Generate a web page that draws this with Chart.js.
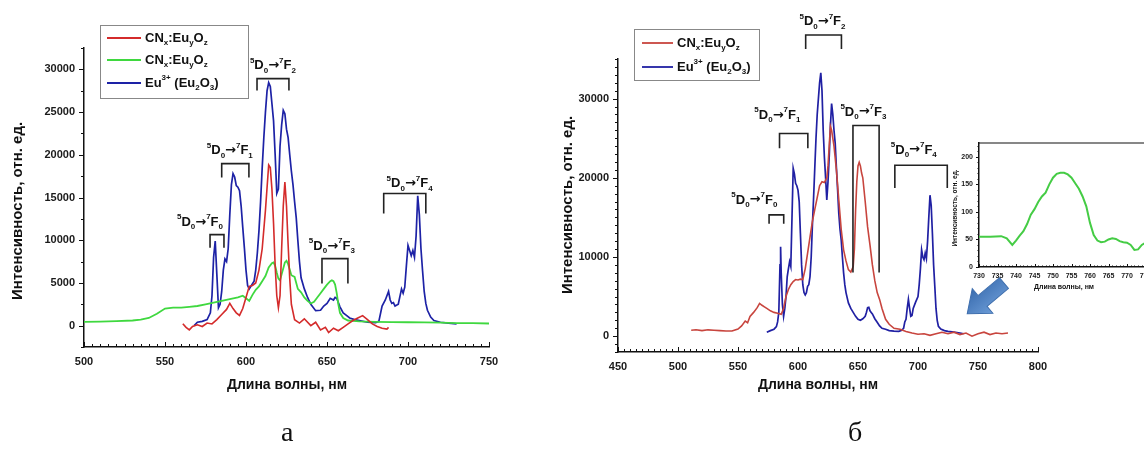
<!DOCTYPE html>
<html><head><meta charset="utf-8">
<script src="https://cdn.jsdelivr.net/npm/chart.js@4"></script>
<style>
html,body{margin:0;padding:0;background:#fff;width:1144px;height:457px;overflow:hidden;position:relative}
canvas{position:absolute}
#cA{left:0;top:0}
#cB{left:540px;top:0}
#cI{left:930px;top:120px}
.lbl{position:absolute;font-family:'Liberation Serif','Times New Roman',serif;font-size:28px;color:#111;line-height:1}
#arrow{position:absolute;left:0;top:0}
</style></head><body>
<canvas id="cA" width="540" height="420"></canvas>
<canvas id="cB" width="520" height="420"></canvas>
<svg id="arrow" width="1144" height="457">
  <defs><linearGradient id="ag" x1="0" y1="0" x2="0" y2="1"><stop offset="0" stop-color="#6b9bd6"/><stop offset="1" stop-color="#3a6db0"/></linearGradient></defs>
  <g transform="translate(1004,283) rotate(140)">
    <polygon points="0,-7 28,-7 28,-16 48,0 28,16 28,7 0,7" fill="url(#ag)" stroke="#3f6fae" stroke-width="1"/>
  </g>
</svg>
<canvas id="cI" width="260" height="185"></canvas>
<div class="lbl" style="left:281px;top:418px">а</div>
<div class="lbl" style="left:848px;top:418px">б</div>
<script>
// ---------------- data (wavelength nm, intensity) ----------------
const redA = [[561,230],[563,-200],[565,-500],[567,-100],[570,100],[573,-100],[576,300],[579,200],[582,700],[585,1300],[588,1900],[590,2600],[592,2000],[594,1500],[596,1200],[598,2000],[600,3300],[602,4600],[604,4700],[606,5000],[608,6500],[610,9000],[612,13500],[614,18800],[615,18500],[616,16000],[617,12000],[618,7000],[619,3500],[620,2100],[621,3500],[622,9000],[623,14000],[624,16800],[625,14000],[626,9500],[627,5500],[628,2500],[630,700],[633,300],[636,800],[640,0],[643,400],[646,-500],[649,-200],[651,-800],[654,-300],[657,-600],[660,-200],[663,200],[666,600],[669,900],[672,1170],[675,700],[678,200],[681,-100],[684,-300],[687,-400],[688,-200]];
const greenA = [[500,450],[510,480],[520,520],[530,600],[535,700],[540,900],[545,1400],[550,2000],[555,2100],[560,2100],[565,2200],[570,2300],[575,2500],[580,2700],[585,2900],[590,3100],[595,3300],[598,3500],[600,3200],[602,2900],[604,3600],[606,4200],[608,4600],[610,5200],[612,5800],[614,6800],[616,7300],[617,7400],[618,7000],[619,6200],[620,5500],[621,5300],[622,6000],[624,7400],[625,7600],[626,7200],[628,5900],[630,5700],[632,4300],[634,3900],[636,3300],[638,2900],[640,2600],[642,2800],[644,3300],[646,3800],[648,4300],[650,4800],[652,5200],[653,5300],[654,5200],[655,4800],[656,3800],[657,2500],[658,1500],[660,900],[663,600],[666,550],[670,500],[680,450],[690,420],[700,400],[710,380],[720,350],[730,300],[740,300],[750,250]];
const blueA = [[568,0],[570,400],[573,500],[576,700],[578,1500],[579,3500],[580,8000],[581,9900],[582,6000],[583,2100],[584,2500],[585,4000],[586,6500],[587,7800],[588,7500],[589,9000],[590,13000],[591,16500],[592,17800],[593,17400],[594,16400],[595,16200],[596,15800],[597,14000],[598,11500],[599,9100],[600,6500],[601,4700],[602,4300],[603,4600],[604,4900],[605,5200],[606,6500],[607,8500],[608,11100],[609,14500],[610,18500],[611,22000],[612,25000],[613,27500],[614,28450],[615,28000],[616,26000],[617,24000],[618,20000],[619,15500],[620,16000],[621,21000],[622,23500],[623,25200],[624,24800],[625,23000],[626,22000],[627,20000],[628,18100],[629,16500],[630,14500],[631,12650],[632,10000],[633,7500],[634,5600],[636,4300],[638,3300],[640,2500],[643,1750],[646,1800],[648,2300],[650,2600],[652,3200],[654,3000],[655,3300],[656,3200],[658,2200],[660,1500],[662,1200],[664,900],[667,700],[670,580],[675,400],[680,350],[682,500],[684,2300],[686,3000],[688,4000],[689,3000],[690,2600],[691,2700],[692,2300],[694,2500],[696,4300],[697,3800],[698,4500],[699,7000],[700,9400],[701,8800],[702,8200],[703,8800],[704,8000],[705,10500],[706,15200],[707,13000],[708,9000],[709,6400],[710,4000],[711,2600],[712,1800],[714,1000],[716,600],[720,400],[725,300],[730,200]];
const redB = [[511,750],[515,800],[520,700],[525,800],[530,750],[535,700],[540,650],[545,650],[550,900],[553,1300],[556,1900],[558,1700],[560,2500],[563,3000],[566,3600],[568,4140],[570,3900],[572,3700],[574,3500],[577,3200],[580,3000],[583,2900],[586,2760],[588,3500],[590,5000],[592,5900],[594,6500],[596,6900],[598,7150],[600,7100],[602,7200],[604,7150],[606,8500],[608,10500],[610,12500],[612,14500],[614,16000],[616,17500],[618,19000],[620,19500],[622,19400],[624,20000],[625,21500],[626,24000],[627,26500],[628,26000],[629,25000],[630,24000],[632,21000],[634,17200],[636,13500],[638,10900],[640,9500],[642,8400],[644,8100],[646,8800],[647,11000],[648,15900],[649,19500],[650,21500],[651,21960],[652,21500],[653,20600],[654,20000],[656,17000],[658,13800],[660,11500],[662,9000],[664,7000],[666,5500],[668,4640],[670,3500],[673,2130],[676,1500],[680,1000],[685,880],[690,600],[695,400],[700,250],[705,300],[710,100],[715,300],[720,500],[725,300],[730,500],[735,200],[740,400],[745,0],[750,300],[755,500],[760,200],[765,400],[770,300],[775,400]];
const blueB = [[574,500],[577,700],[580,880],[582,1200],[583,1800],[584,3000],[585,9000],[585.5,11300],[586,8000],[587,4000],[588,2500],[589,3500],[590,5000],[591,7500],[592,8500],[593,9400],[594,8800],[595,15000],[596,21200],[597,20500],[598,19300],[599,19000],[600,18450],[601,17000],[602,13000],[603,9000],[604,6500],[605,5500],[606,5200],[607,5500],[608,6300],[609,6500],[610,7500],[611,10000],[612,14000],[613,17500],[614,21300],[615,25000],[616,28000],[617,30000],[618,32000],[619,33260],[620,31000],[621,26000],[622,22600],[623,20000],[624,17200],[625,19500],[626,22600],[627,26500],[628,29370],[629,28000],[630,26000],[631,24350],[632,21300],[633,18500],[634,15500],[635,13500],[636,12170],[637,10000],[638,8000],[639,6500],[640,5500],[642,4200],[644,3500],[646,3000],[648,2500],[650,2130],[652,2000],[654,2200],[656,2500],[657,3000],[658,3600],[659,3640],[660,3200],[661,3000],[662,2800],[664,2200],[666,1750],[668,1300],[670,1000],[673,880],[676,700],[680,630],[684,600],[686,700],[688,1000],[689,1800],[690,2130],[691,3500],[692,4640],[693,3500],[694,2500],[695,2600],[696,3500],[698,4300],[700,5000],[701,6500],[702,8500],[703,10900],[704,10000],[705,9660],[706,10500],[707,9800],[708,12000],[709,15000],[710,17800],[711,16500],[712,13000],[713,9000],[714,6300],[715,3500],[716,2000],[717,1250],[719,900],[722,700],[725,600],[730,500],[735,400],[738,300]];
const greenI = [[730,55],[733,55],[736,56],[737.5,52],[739,40],[740,48],[741,57],[742,65],[743,78],[744,95],[745,105],[746,118],[747,128],[748,135],[749,150],[750,162],[751,169],[752,171],[753,171],[754,168],[755,162],[756,152],[757,142],[758,128],[759,110],[760,80],[761,58],[762,48],[763,45],[764,46],[765,50],[766,52],[767,51],[768,47],[769,45],[770,44],[771,40],[772,31],[773,32],[774,40],[775,44],[776,45]];

// tick labels
const xTicksA = [500,550,600,650,700,750];
const yTicksA = [0,5000,10000,15000,20000,25000,30000];
const xTicksB = [450,500,550,600,650,700,750,800];
const yTicksB = [0,10000,20000,30000];
const xTicksI = [730,735,740,745,750,755,760,765,770,775,780];
const yTicksI = [0,50,100,150,200];

// texts
const legendA = ['CN_x:Eu_yO_z','CN_x:Eu_yO_z','Eu^{3+} (Eu_2O_3)'];
const legendB = ['CN_x:Eu_yO_z','Eu^{3+} (Eu_2O_3)'];
const xTitle = 'Длина волны, нм';
const yTitle = 'Интенсивность, отн. ед.';
const transitions = ['^5D_0→^7F_0','^5D_0→^7F_1','^5D_0→^7F_2','^5D_0→^7F_3','^5D_0→^7F_4'];

// bracket annotations (data coordinates): x0,x1, top, leg end, label x, label y
const bracketsA = [
  [577.8,586.4,10650,9130,571.6,12100],
  [585,601.8,18970,17330,590,20500],
  [606.8,626.5,28920,27520,616.6,30450],
  [646.9,662.9,7850,4920,653,9300],
  [685,711,15460,13120,701,16600]
];
const bracketsB = [
  [575.9,588.1,15310,14180,563.6,17200],
  [584.6,608.2,25600,23720,582.8,27900],
  [606.4,636.2,38030,36270,620.4,39700],
  [645.8,667.6,26600,8030,654.5,28300],
  [680.7,724.4,21590,18700,696.5,23500]
];

// ---------------- helpers ----------------
const FF = "'Liberation Sans', Arial, sans-serif";
function parseRich(s){const out=[];let i=0;while(i<s.length){const c=s[i];if(c==='^'||c==='_'){let t;if(s[i+1]==='{'){const j=s.indexOf('}',i);t=s.slice(i+2,j);i=j+1;}else{t=s[i+1];i+=2;}out.push({t,m:c==='^'?'sup':'sub'});}else if(c==='→'){out.push({t:c,m:'arr'});i++;}else{let j=i;while(j<s.length&&s[j]!=='^'&&s[j]!=='_'&&s[j]!=='→')j++;out.push({t:s.slice(i,j),m:'n'});i=j;}}return out;}
function segFont(g,size){const small=Math.round(size*0.62);if(g.m==='arr')return `bold ${size}px 'DejaVu Sans', sans-serif`;return `bold ${g.m==='n'?size:small}px ${FF}`;}
function drawRich(ctx,s,x,y,size,align,color){
  const segs=parseRich(s);let w=0;
  segs.forEach(g=>{ctx.font=segFont(g,size);g.w=ctx.measureText(g.t).width;w+=g.w;});
  let cx=align==='center'?x-w/2:(align==='right'?x-w:x);
  ctx.textBaseline='middle';ctx.textAlign='left';ctx.fillStyle=color||'#111';
  segs.forEach(g=>{ctx.font=segFont(g,size);const dy=g.m==='sup'?-size*0.4:(g.m==='sub'?size*0.38:0);ctx.fillText(g.t,cx,y+dy);cx+=g.w;});
}
function decor(spec){
  return {id:'decor',afterDraw(chart){
    const ctx=chart.ctx,xs=chart.scales.x,ys=chart.scales.y,a=chart.chartArea;
    ctx.save();
    ctx.strokeStyle='#111';ctx.lineWidth=1;
    for(let v=xs.min;v<=xs.max+1e-6;v+=spec.xMinor){
      const major=Math.abs(v/spec.xMajor-Math.round(v/spec.xMajor))<1e-6;
      const px=Math.round(xs.getPixelForValue(v))+0.5;
      ctx.beginPath();ctx.moveTo(px,a.bottom);ctx.lineTo(px,a.bottom+(spec.xDir)*(major?spec.xMajLen:spec.xMinLen));ctx.stroke();
    }
    const y0=Math.ceil(ys.min/spec.yMinor)*spec.yMinor;
    for(let v=y0;v<=ys.max+1e-6;v+=spec.yMinor){
      const major=Math.abs(v/spec.yMajor-Math.round(v/spec.yMajor))<1e-6;
      const py=Math.round(ys.getPixelForValue(v))+0.5;
      ctx.beginPath();ctx.moveTo(a.left,py);ctx.lineTo(a.left-(major?spec.yMajLen:spec.yMinLen),py);ctx.stroke();
    }
    if(spec.frame){ctx.lineWidth=1.2;ctx.beginPath();ctx.moveTo(a.left,a.top);ctx.lineTo(a.right,a.top);ctx.lineTo(a.right,a.bottom);ctx.stroke();}
    ctx.fillStyle='#111';ctx.textAlign='center';ctx.textBaseline='middle';
    ctx.font=`bold ${spec.xtSize}px ${FF}`;ctx.fillText(xTitle,spec.xt[0],spec.xt[1]);
    ctx.save();ctx.translate(spec.yt[0],spec.yt[1]);ctx.rotate(-Math.PI/2);ctx.font=`bold ${spec.ytSize}px ${FF}`;ctx.fillText(yTitle,0,0);ctx.restore();
    if(spec.brackets){
      ctx.strokeStyle='#222';ctx.lineWidth=1.6;
      spec.brackets.forEach((b,i)=>{
        const x0=xs.getPixelForValue(b[0]),x1=xs.getPixelForValue(b[1]),yt=ys.getPixelForValue(b[2]),yl=ys.getPixelForValue(b[3]);
        ctx.beginPath();ctx.moveTo(x0,yl);ctx.lineTo(x0,yt);ctx.lineTo(x1,yt);ctx.lineTo(x1,yl);ctx.stroke();
        drawRich(ctx,transitions[i],xs.getPixelForValue(b[4]),ys.getPixelForValue(b[5]),spec.brSize,'center','#111');
      });
    }
    if(spec.legend){
      const L=spec.legend;
      ctx.strokeStyle='#888';ctx.lineWidth=1;ctx.strokeRect(L.box[0]+0.5,L.box[1]+0.5,L.box[2],L.box[3]);
      L.labels.forEach((t,i)=>{
        const yy=L.ys[i];
        ctx.strokeStyle=chart.data.datasets[L.ds[i]].borderColor;ctx.lineWidth=1.8;
        ctx.beginPath();ctx.moveTo(L.line[0],yy);ctx.lineTo(L.line[1],yy);ctx.stroke();
        drawRich(ctx,t,L.tx,yy,L.size,'left','#111');
      });
    }
    ctx.restore();
  }};
}
function makeChart(id,series,sc,spec){
  const tickFont={family:FF,weight:'bold',size:sc.fs};
  return new Chart(document.getElementById(id),{
    type:'scatter',
    data:{datasets:series.map(s=>({data:s.pts.map(p=>({x:p[0],y:p[1]})),borderColor:s.color,backgroundColor:s.color,borderWidth:s.w,showLine:true,pointRadius:0,tension:0,fill:false}))},
    options:{responsive:false,animation:false,devicePixelRatio:1,events:[],
      layout:{padding:sc.pad},
      plugins:{legend:{display:false},tooltip:{enabled:false}},
      scales:{
        x:{type:'linear',min:sc.xmin,max:sc.xmax,afterBuildTicks:s=>{s.ticks=sc.xt.map(v=>({value:v}));},afterFit:s=>{s.height=sc.xh;},
           grid:{display:false,drawTicks:false,tickLength:0},border:{display:true,color:'#111',width:1.5},
           ticks:{autoSkip:false,maxRotation:0,minRotation:0,padding:sc.xpad,color:'#1a1a1a',font:tickFont,callback:v=>String(v)}},
        y:{type:'linear',min:sc.ymin,max:sc.ymax,afterBuildTicks:s=>{s.ticks=sc.yt.map(v=>({value:v}));},afterFit:s=>{s.width=sc.yw;},
           grid:{display:false,drawTicks:false,tickLength:0},border:{display:true,color:'#111',width:1.5},
           ticks:{autoSkip:false,padding:sc.ypad,color:'#1a1a1a',font:tickFont,callback:v=>String(v)}}
      }},
    plugins:[decor(spec)]
  });
}

// ---------------- chart а ----------------
makeChart('cA',
  [{pts:redA,color:'#d42b2b',w:1.6},{pts:greenA,color:'#3fd83f',w:1.8},{pts:blueA,color:'#1d22a6',w:1.7}],
  {xmin:500,xmax:750,ymin:-2500,ymax:32500,xt:xTicksA,yt:yTicksA,xh:50,yw:84,fs:11,xpad:8,ypad:9,
   pad:{left:0,top:48,right:51,bottom:23}},
  {xMinor:5,xMajor:50,xDir:-1,xMajLen:5,xMinLen:3,yMinor:2500,yMajor:5000,yMajLen:5,yMinLen:3,
   xt:[287,385],xtSize:14,yt:[18,211],ytSize:15,brSize:13,brackets:bracketsA,
   legend:{box:[100,25,148,73],labels:legendA,ds:[0,1,2],ys:[38,60,83],line:[107,141],tx:145,size:13}});

// ---------------- chart б ----------------
makeChart('cB',
  [{pts:redB,color:'#c8453e',w:1.6},{pts:blueB,color:'#2020a3',w:1.7}],
  {xmin:450,xmax:800,ymin:-2000,ymax:35000,xt:xTicksB,yt:yTicksB,xh:45,yw:78,fs:11,xpad:8,ypad:9,
   pad:{left:0,top:59,right:22,bottom:23}},
  {xMinor:5,xMajor:50,xDir:-1,xMajLen:5,xMinLen:3,yMinor:1000,yMajor:10000,yMajLen:5,yMinLen:3,
   xt:[278,385],xtSize:14,yt:[28,205],ytSize:15,brSize:13,brackets:bracketsB,
   legend:{box:[94,29,125,51],labels:legendB,ds:[0,1],ys:[43,67],line:[102,133],tx:137,size:13}});

// ---------------- inset ----------------
makeChart('cI',
  [{pts:greenI,color:'#45cc45',w:2}],
  {xmin:730,xmax:780,ymin:0,ymax:225,xt:xTicksI,yt:yTicksI,xh:28,yw:49,fs:7,xpad:5,ypad:6,
   pad:{left:0,top:23,right:26,bottom:10}},
  {xMinor:1,xMajor:5,xDir:-1,xMajLen:3,xMinLen:1.5,yMinor:10,yMajor:50,yMajLen:3,yMinLen:1.5,frame:true,
   xt:[134,167],xtSize:7,yt:[25,88],ytSize:6.5});
</script>
</body></html>
